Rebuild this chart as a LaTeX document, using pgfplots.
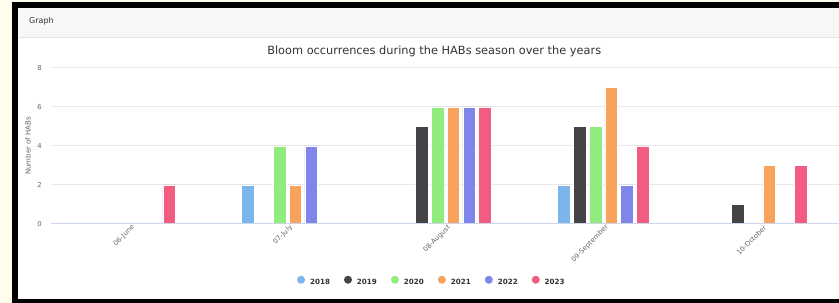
\documentclass[border=0pt]{standalone}
\usepackage{fontspec}
\setmainfont{DejaVu Sans}
\usepackage{pgfplots}
\pgfplotsset{compat=1.18}
\pgfdeclarelayer{background}
\pgfsetlayers{background,main}
\definecolor{cream}{HTML}{FFFCEE}
\definecolor{headbg}{HTML}{F7F7F7}
\definecolor{hline}{HTML}{E6E6E6}
\definecolor{txt}{HTML}{333333}
\definecolor{tickc}{HTML}{666666}
\definecolor{gridc}{HTML}{E9E9E9}
\definecolor{axisline}{HTML}{CCD6EB}
\definecolor{c2018}{HTML}{7CB5EC}
\definecolor{c2019}{HTML}{434348}
\definecolor{c2020}{HTML}{90ED7D}
\definecolor{c2021}{HTML}{F7A35C}
\definecolor{c2022}{HTML}{8085E9}
\definecolor{c2023}{HTML}{F15C80}
\begin{document}
\begin{tikzpicture}[x=1bp,y=1bp]
\begin{axis}[
  name=ax,
  at={(50.7,79)}, anchor=south west,
  scale only axis, width=788.3bp, height=156bp,
  xmin=-0.5, xmax=4.4894, ymin=0, ymax=8,
  axis line style={draw=none},
  major tick length=0pt,
  ytick={0,2,4,6,8},
  ymajorgrids, grid style={gridc, line width=1bp},
  xtick={0,1,2,3,4},
  xticklabels={06-June,07-July,08-August,09-September,10-October},
  ticklabel style={font=\fontsize{6.8}{8}\selectfont, text=tickc},
  /pgf/number format/assume math mode=true,
  yticklabel style={anchor=east, inner sep=0pt, xshift=-8.7bp},
  xticklabel style={rotate=45, anchor=east, inner sep=0pt, yshift=-4.5bp, xshift=1bp},
  ylabel={Number of HABs},
  every axis y label/.style={at={(axis description cs:-0.02873,0.5)}, rotate=90, anchor=center, font=\fontsize{7}{8}\selectfont, text=tickc},
  ybar, bar width=0.08,
  legend columns=-1,
  legend style={at={(axis description cs:0.3125,-0.365)}, anchor=west, draw=none, fill=none, inner sep=0pt, column sep=5bp, /tikz/every even column/.append style={column sep=14bp}, font=\bfseries\fontsize{7.2}{8}\selectfont, text=txt, nodes={inner sep=0pt}},
  legend image code/.code={\fill[#1, draw=none] (0bp,2.6bp) circle (4bp);},
]
\addplot[fill=c2018, draw=white, line width=0.5bp, bar shift=-0.25] coordinates {(1,2) (3,2)};
\addplot[fill=c2019, draw=white, line width=0.5bp, bar shift=-0.15] coordinates {(2,5) (3,5) (4,1)};
\addplot[fill=c2020, draw=white, line width=0.5bp, bar shift=-0.05] coordinates {(1,4) (2,6) (3,5)};
\addplot[fill=c2021, draw=white, line width=0.5bp, bar shift=0.05] coordinates {(1,2) (2,6) (3,7) (4,3)};
\addplot[fill=c2022, draw=white, line width=0.5bp, bar shift=0.15] coordinates {(1,4) (2,6) (3,2)};
\addplot[fill=c2023, draw=white, line width=0.5bp, bar shift=0.25] coordinates {(0,2) (2,6) (3,4) (4,3)};
\legend{2018,2019,2020,2021,2022,2023}
\draw[axisline, line width=1bp] (axis cs:-0.5,0) -- (axis cs:4.4894,0);
\end{axis}
\begin{scope}[shift={(ax.south west)}]
\begin{scope}[xshift=-50.7bp, yshift=-79bp]
\node[anchor=base west, font=\fontsize{8}{10}\selectfont, text=txt, inner sep=0pt] at (29,279.5) {Graph};
\node[anchor=base, font=\fontsize{11.4}{13}\selectfont, text=txt, inner sep=0pt] at (434.5,248) {Bloom occurrences during the HABs season over the years};
\begin{pgfonlayer}{background}
\fill[cream] (0,0) rectangle (839,303);
\fill[black] (12,0) rectangle (839,301);
\fill[white] (18,4) rectangle (839,295);
\fill[headbg] (18,265) rectangle (839,295);
\draw[hline, line width=1bp] (18,265) -- (839,265);
\end{pgfonlayer}
\end{scope}
\end{scope}
\end{tikzpicture}
\end{document}
